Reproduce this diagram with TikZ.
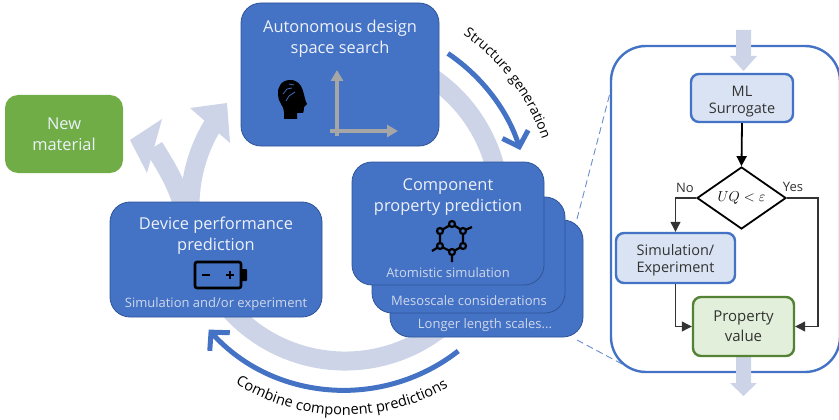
\documentclass[tikz,border=0pt]{standalone}
\usepackage{fontspec}
\setmainfont{Open Sans}
\usetikzlibrary{arrows.meta,shapes.geometric,decorations.text}
\definecolor{boxblue}{HTML}{4472C4}
\definecolor{boxedge}{HTML}{2F5597}
\definecolor{bandblue}{HTML}{CDD4E8}
\definecolor{paleblue}{HTML}{DAE3F3}
\definecolor{leafgreen}{HTML}{70AD47}
\definecolor{palegreen}{HTML}{E2EFDA}
\definecolor{edgegreen}{HTML}{548235}
\definecolor{softwhite}{HTML}{EDF1F9}
\definecolor{subwhite}{HTML}{CFD8EC}
\tikzset{
  bluebox/.style={draw=boxedge, fill=boxblue, line width=0.8pt, rounded corners=20pt},
  titletext/.style={text=softwhite, align=center, inner sep=0pt, font=\fontsize{16.4}{21}\selectfont},
  subtext/.style={text=subwhite, inner sep=0pt, font=\fontsize{13}{15}\selectfont},
  flowbox/.style={draw=boxblue, fill=paleblue, line width=2.4pt, rounded corners=8pt, align=center,
    text=black!80, inner sep=0pt, font=\fontsize{14.5}{17}\selectfont},
  flowlabel/.style={inner sep=0pt, text=black!80, font=\fontsize{13}{15}\selectfont},
  flowline/.style={draw=black!80, line width=1.2pt, -{Triangle[length=10pt,width=10pt]}},
  bigarrow/.style={draw=boxblue, line width=5pt, -{Straight Barb[length=13pt,width=27pt,line width=5pt]}},
  band/.style={draw=bandblue, line width=19pt},
  bandhead/.style={fill=bandblue, draw=none},
  iconline/.style={draw=black, line width=2.2pt},
  zoomline/.style={draw=boxblue!80, line width=0.9pt, dash pattern=on 7pt off 4pt}
}
\begin{document}
\begin{tikzpicture}[x=1pt,y=-1pt]
           \useasboundingbox (0,0) rectangle (839,420);
           \coordinate (hub) at (345,206);
           % background bands
           \draw [band] (hub) ++(-70:155) arc [start angle=-70, end angle=212, radius=155];
           \fill [bandhead] (190,108) -- (227,103) -- (230,143) -- cycle;
           \draw [band] (184,210) .. controls (178,185) and (165,165) .. (154,147);
           \fill [bandhead] (162,119) -- (130,140) -- (147,173) -- cycle;
           % dark arrows
           \draw [bigarrow] (hub) ++(-56:184) arc [start angle=-56, end angle=-17.7, radius=184];
           \draw [bigarrow] (hub) ++(52:184) arc [start angle=52, end angle=137.8, radius=184];
           \path [decorate, decoration={text along path, text align=center,
             text={|\fontsize{13.8}{15}\selectfont|Structure generation}}]
             (hub) ++(-61.5:208) arc [start angle=-61.5, end angle=-12.5, radius=208];
           \path [decorate, decoration={text along path, text align=center,
             text={|\fontsize{14.6}{16}\selectfont|Combine component predictions}}]
             (hub) ++(129:209) arc [start angle=129, end angle=53, radius=209];
           % main boxes
           \node [bluebox, minimum width=198pt, minimum height=143pt] (design) at (340,74.5) {};
           \node [titletext, anchor=north] (designtext) at (340,20) {Autonomous design\\space search};
           \node [bluebox, minimum width=193pt, minimum height=117pt] (scale3) at (486.5,278.5) {};
           \node [bluebox, minimum width=193pt, minimum height=116pt] (scale2) at (468.5,255) {};
           \node [bluebox, minimum width=192pt, minimum height=123pt] (scale1) at (448,223.5) {};
           \node [titletext, anchor=north] (scaletext) at (448,178) {Component\\property prediction};
           \node [subtext] (atomtext) at (448,273) {Atomistic simulation};
           \node [subtext] (mesotext) at (469,301) {Mesoscale considerations};
           \node [subtext] (longtext) at (485,325) {Longer length scales...};
           \node [bluebox, minimum width=212pt, minimum height=115pt] (device) at (216,259.5) {};
           \node [titletext, anchor=north] (devicetext) at (216,217) {Device performance\\prediction};
           \node [subtext] (devicesub) at (216,304) {Simulation and/or experiment};
           \node [fill=leafgreen, rounded corners=13pt, minimum width=118pt, minimum height=78pt] (newmat) at (64,134) {};
           \node [titletext] (newmattext) at (64,134) {New\\material};
           % head icon
           \fill (284,119) -- (297,119) -- (297,113) -- (303,113) .. controls (304,111) and (304,109) .. (304,107)
             -- (307,104) .. controls (303,98) and (305,80) .. (290,80)
             .. controls (281,80) and (277,88) .. (278,95) .. controls (278,102) and (284,106) .. (284,112) -- cycle;
           \draw [boxblue, line width=0.7pt] (283,94) -- (287,89) -- (292,88) (286,101) -- (289,96) -- (295,92) (289,84) -- (294,85);
           % search axes
           \draw [draw=black!35, line width=3.2pt, -{Triangle[length=11pt,width=12pt]}] (337,136) -- (337,70);
           \draw [draw=black!35, line width=3.2pt, -{Triangle[length=11pt,width=12pt]}] (330,131) -- (398,131);
           % molecule
           \draw [iconline] (452,224) -- (463,231) -- (463,246) -- (452,252) -- (440,246) -- (440,231) -- cycle;
           \draw [iconline] (463,231) -- (472,227) (452,252) -- (452,262) (440,246) -- (432,251);
           \foreach \px/\py in {452/224,463/231,463/246,452/252,440/246,440/231}
             \draw [iconline, fill=boxblue] (\px,\py) circle (3pt);
           % battery
           \draw [draw=black, line width=2.6pt, rounded corners=2pt] (195,262) rectangle (241,288);
           \fill [rounded corners=1pt] (241,269) rectangle (247,281);
           \draw [line width=2.2pt] (202,275) -- (210,275) (226,275) -- (234,275) (230,271) -- (230,279);
           % zoom lines
           \coordinate (zoomtop) at (610,93);
           \coordinate (zoombottom) at (622,364);
           \coordinate (stacktop) at (577,219);
           \coordinate (stackbottom) at (577,340);
           \draw [zoomline] (stacktop) -- (zoomtop);
           \draw [zoomline] (stackbottom) -- (zoombottom);
           % detail panel
           \node [draw=boxblue, fill=white, line width=2.4pt, rounded corners=35pt, minimum width=229pt, minimum height=326pt] (panel) at (725.5,209) {};
           \fill [bandhead] (736,30) -- (751,30) -- (751,56) -- (757,56) -- (743.5,71) -- (730,56) -- (736,56) -- cycle;
           \fill [bandhead] (736,350) -- (751,350) -- (751,383) -- (757,383) -- (743.5,396) -- (730,383) -- (736,383) -- cycle;
           \node [flowbox, minimum width=102pt, minimum height=48pt] (surrogate) at (742,98) {\rule{0pt}{17pt}ML\\Surrogate};
           \node [draw=black, line width=1.8pt, diamond, aspect=1.43, minimum width=89pt, minimum height=62pt, inner sep=0pt] (check) at (741.5,198) {\fontsize{15.5}{17}\selectfont $UQ<\varepsilon$};
           \node [flowbox, minimum width=119pt, minimum height=50pt] (simbox) at (675.5,258) {\rule{0pt}{15pt}Simulation/\\Experiment};
           \node [flowbox, draw=edgegreen, fill=palegreen, minimum width=101pt, minimum height=59pt, font=\fontsize{15}{20}\selectfont] (property) at (743.5,326.5) {Property\\value};
           \node [flowlabel] (nolabel) at (685,188) {No};
           \node [flowlabel] (yeslabel) at (793,187) {Yes};
           \coordinate (yesturn) at (818,198);
           \draw [flowline, line width=1.8pt, draw=black] (surrogate.south) -- (check.north);
           \draw [flowline] (check.west) -| (simbox.north);
           \draw [flowline] (simbox.south) |- (property.west);
           \draw [flowline] (check.east) -- (yesturn) |- (property.east);
      \end{tikzpicture}
\end{document}
